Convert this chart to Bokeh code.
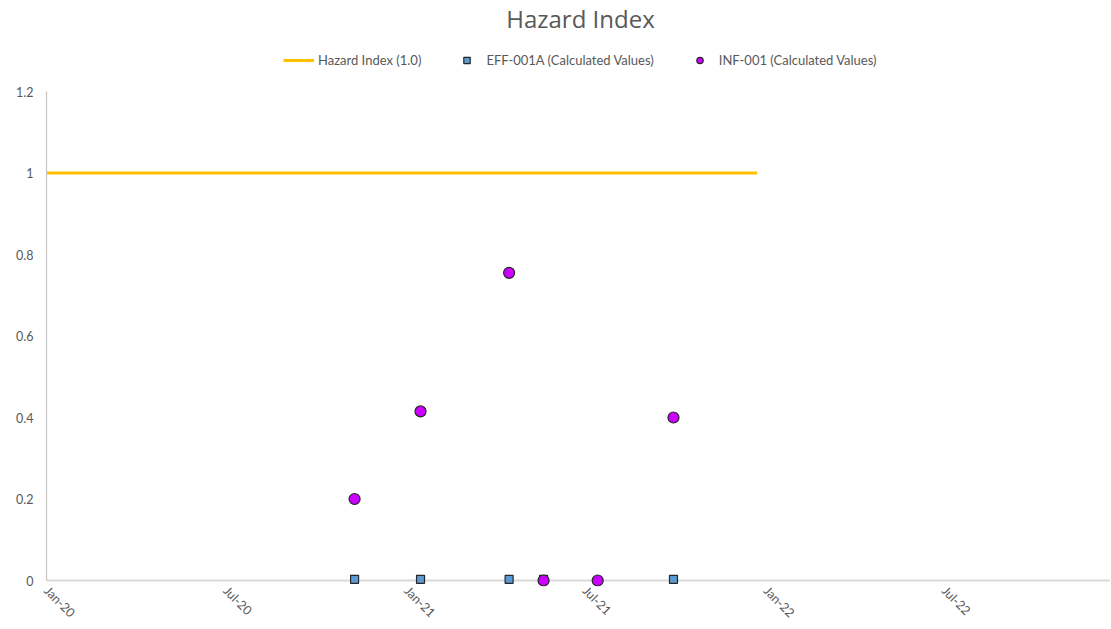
import math
import pandas as pd
from bokeh.plotting import figure
from bokeh.models import (Range1d, Legend, LegendItem, FixedTicker, DatetimeTickFormatter,
                          CustomJSTickFormatter, Span, Label)
from bokeh.embed import file_html
from bokeh.resources import INLINE

# ---- data ----
hazard_dates = ["2020-01-01", "2021-12-23"]
hazard_values = [1.0, 1.0]

eff_dates = ["2020-11-09", "2021-01-15", "2021-04-15", "2021-05-20", "2021-09-29"]
eff_values = [0.003, 0.003, 0.003, 0.003, 0.003]

inf_dates = ["2020-11-09", "2021-01-15", "2021-04-15", "2021-05-20", "2021-07-14", "2021-09-29"]
inf_values = [0.2, 0.415, 0.755, 0.0, 0.0, 0.40]

x_tick_dates = ["2020-01-01", "2020-07-01", "2021-01-01", "2021-07-01", "2022-01-01", "2022-07-01"]
y_ticks = [0, 0.2, 0.4, 0.6, 0.8, 1.0, 1.2]
x_start, x_end = "2020-01-01", "2022-12-17"
y_start, y_end = -0.0147, 1.4234

TEXT = "#595959"
FONT = "Lato"


def ms(d):
    return pd.Timestamp(d).value / 1e6


p = figure(width=1110, height=628, x_axis_type="datetime",
           x_range=Range1d(ms(x_start), ms(x_end)), y_range=Range1d(y_start, y_end),
           output_backend="svg", toolbar_location=None,
           min_border_left=46, min_border_right=0, min_border_top=0, min_border_bottom=0)

p.outline_line_color = None
p.xgrid.visible = False
p.ygrid.visible = False

# zero line (x axis line)
p.add_layout(Span(location=0, dimension="width", line_color="#D9D9D9", line_width=2, level="underlay"))

hz = p.line([pd.Timestamp(d) for d in hazard_dates], hazard_values, line_color="#FFC000", line_width=3)
eff = p.scatter([pd.Timestamp(d) for d in eff_dates], eff_values, marker="square", size=8,
                fill_color="#5B9BD5", line_color="#262626", line_width=1.2)
inf = p.scatter([pd.Timestamp(d) for d in inf_dates], inf_values, marker="circle", size=11,
                fill_color="#CC00FF", line_color="#262626", line_width=1.2)

# axes
xa = p.xaxis[0]
xa.ticker = FixedTicker(ticks=[ms(d) for d in x_tick_dates])
xa.formatter = DatetimeTickFormatter(months="%b-%y", days="%b-%y", years="%b-%y", hours="%b-%y",
                                     minutes="%b-%y", seconds="%b-%y", milliseconds="%b-%y",
                                     microseconds="%b-%y", minsec="%b-%y", hourmin="%b-%y")
xa.major_label_orientation = -math.pi / 4
xa.axis_line_color = None
xa.major_tick_line_color = None
xa.minor_tick_line_color = None
xa.major_tick_out = 0
xa.minor_tick_out = 0
xa.major_tick_in = 0
xa.minor_tick_in = 0
xa.major_label_text_font = FONT
xa.major_label_text_font_size = "12.5px"
xa.major_label_text_color = TEXT
xa.major_label_text_line_height = 0.8
xa.major_label_standoff = 2

ya = p.yaxis[0]
ya.ticker = FixedTicker(ticks=y_ticks)
ya.formatter = CustomJSTickFormatter(code="return String(Math.round(tick*10)/10);")
ya.bounds = (0, 1.2)
ya.axis_line_color = "#C8C8C8"
ya.axis_line_width = 1.3
ya.major_tick_line_color = None
ya.minor_tick_line_color = None
ya.major_tick_out = 0
ya.minor_tick_out = 0
ya.major_label_text_font = FONT
ya.major_label_text_font_size = "12.5px"
ya.major_label_text_color = TEXT
ya.major_label_standoff = 13

# title (inside the top of the frame)
p.add_layout(Label(x=534, y=568, x_units="screen", y_units="screen", text="Hazard Index",
                   text_align="center", text_baseline="middle", text_font="Open Sans",
                   text_font_size="24px", text_color=TEXT))

legend = Legend(items=[LegendItem(label="Hazard Index (1.0)", renderers=[hz]),
                       LegendItem(label="EFF-001A (Calculated Values)", renderers=[eff]),
                       LegendItem(label="INF-001 (Calculated Values)", renderers=[inf])],
                orientation="horizontal", location=(237, 518),
                border_line_color=None, background_fill_alpha=0,
                label_text_font=FONT, label_text_font_size="13px", label_text_color=TEXT,
                glyph_width=31, glyph_height=16, label_height=16, spacing=30, label_standoff=4,
                padding=2, margin=0)
p.add_layout(legend)

open("out.html", "w").write(file_html(p, INLINE))
